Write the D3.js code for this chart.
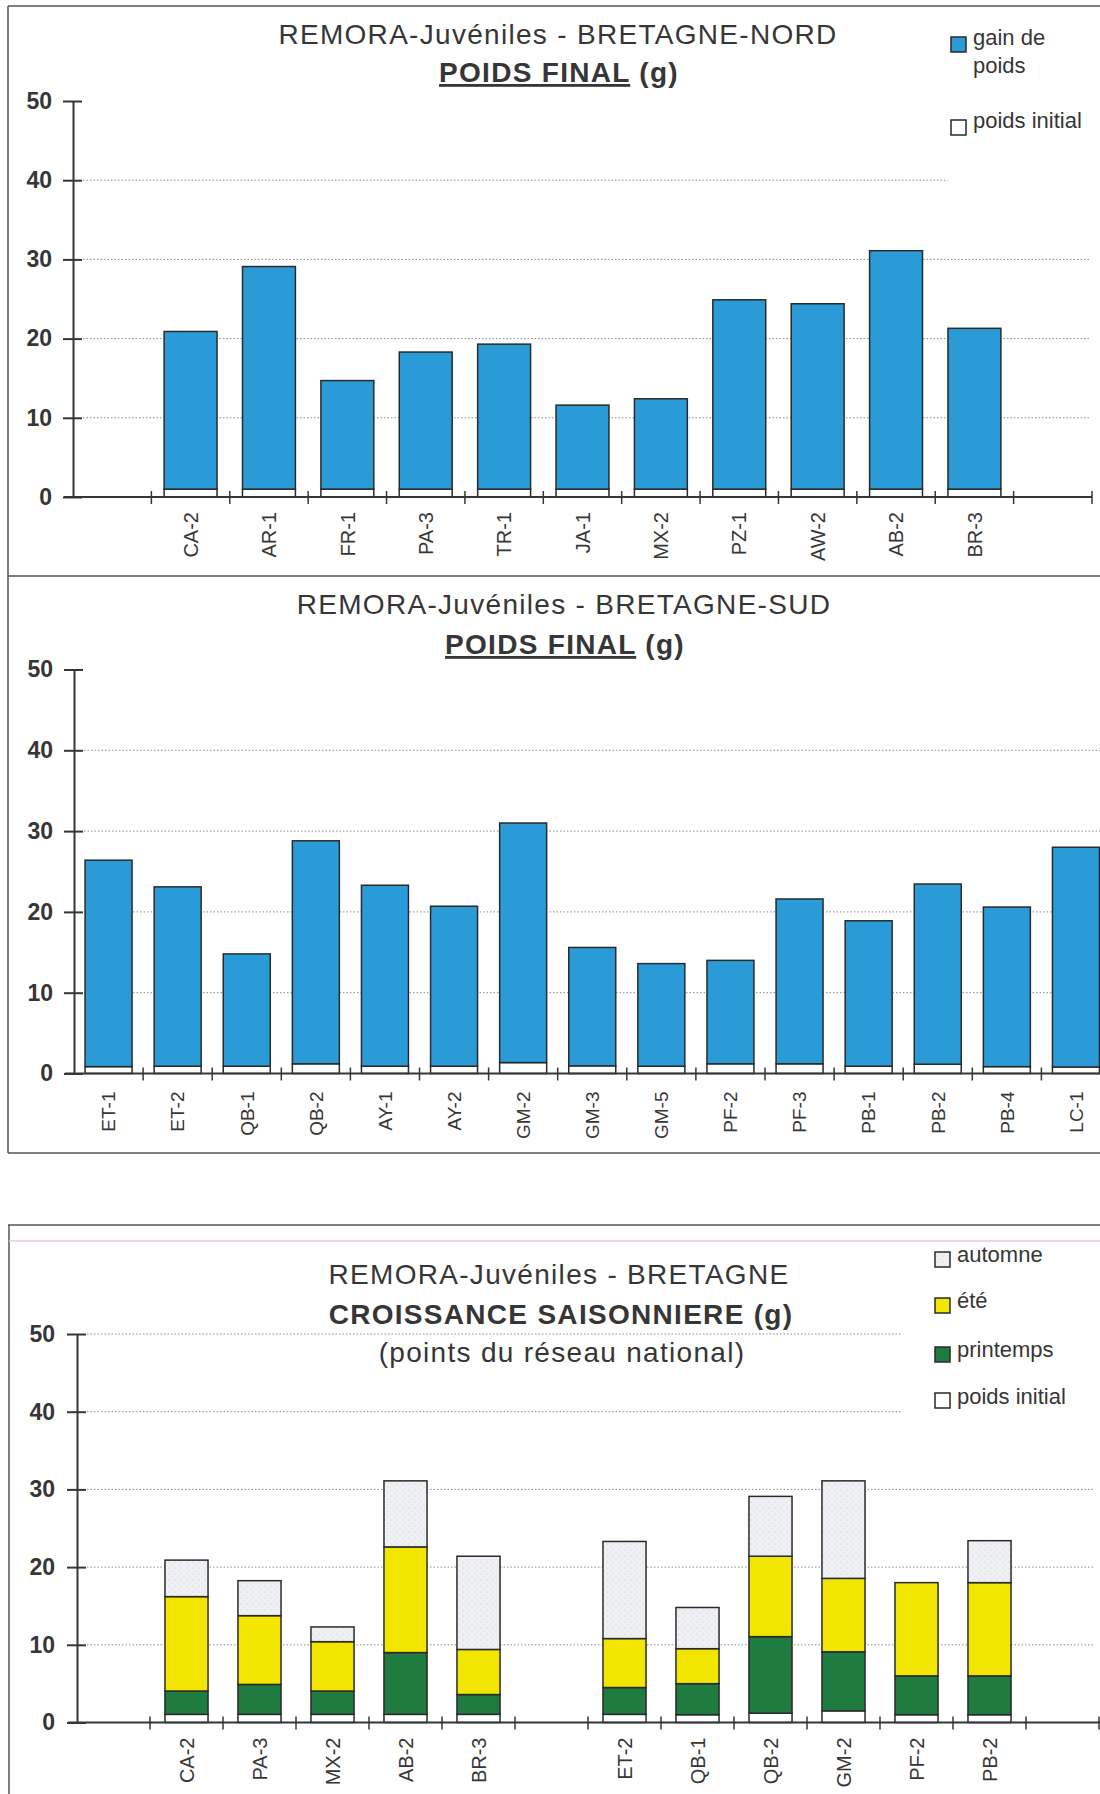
<!DOCTYPE html>
<html>
<head>
<meta charset="utf-8">
<script src="https://cdn.jsdelivr.net/npm/d3@7"></script>
<style>
  body { margin: 0; background: #fff; }
  svg { display: block; }
</style>
</head>
<body>
<div id="chart"></div>
<script>
// Données
const nordSites = ["CA-2", "AR-1", "FR-1", "PA-3", "TR-1", "JA-1", "MX-2", "PZ-1", "AW-2", "AB-2", "BR-3"];
const nordInitial = [1.0, 1.0, 1.0, 1.0, 1.0, 1.0, 1.0, 1.0, 1.0, 1.0, 1.0];
const nordGain = [19.9, 28.1, 13.7, 17.3, 18.3, 10.6, 11.4, 23.9, 23.4, 30.1, 20.3];

const sudSites = ["ET-1", "ET-2", "QB-1", "QB-2", "AY-1", "AY-2", "GM-2", "GM-3", "GM-5", "PF-2", "PF-3", "PB-1", "PB-2", "PB-4", "LC-1"];
const sudInitial = [0.85, 0.9, 0.9, 1.2, 0.9, 0.9, 1.35, 0.95, 0.9, 1.2, 1.2, 0.9, 1.15, 0.85, 0.8];
const sudGain = [25.55, 22.2, 13.9, 27.6, 22.4, 19.8, 29.65, 14.65, 12.7, 12.8, 20.4, 18.0, 22.3, 19.75, 27.2];

const saisonNord = ["CA-2", "PA-3", "MX-2", "AB-2", "BR-3"];
const saisonSud = ["ET-2", "QB-1", "QB-2", "GM-2", "PF-2", "PB-2"];
const saisonInitial = [1.05, 1.05, 1.05, 1.05, 1.05, 1.05, 1.0, 1.2, 1.5, 1.0, 1.0];
const saisonPrintemps = [3.0, 3.85, 3.0, 7.95, 2.55, 3.45, 4.0, 9.85, 7.6, 5.0, 5.0];
const saisonEte = [12.15, 8.85, 6.35, 13.6, 5.8, 6.3, 4.5, 10.35, 9.45, 12.0, 12.0];
const saisonAutomne = [4.7, 4.5, 1.9, 8.5, 12.0, 12.5, 5.3, 7.7, 12.55, 0, 5.4];

const yTicks = [0, 10, 20, 30, 40, 50];

const FONT = '"Liberation Sans", Arial, sans-serif';
const INK = "#363636";
const colors = {
  gain: "#2b9bd8",
  initial: "#ffffff",
  printemps: "#1f7b40",
  ete: "#f2e600",
  automne: "#eef0f3"
};

const W = 1100, H = 1794;
const svg = d3.select("#chart").append("svg")
  .attr("width", W)
  .attr("height", H)
  .style("font-family", FONT);

// motif pointillé pour l'automne
const pat = svg.append("defs").append("pattern")
  .attr("id", "stipple")
  .attr("width", 6).attr("height", 6)
  .attr("patternUnits", "userSpaceOnUse");
pat.append("rect").attr("width", 6).attr("height", 6).attr("fill", colors.automne);
pat.append("circle").attr("cx", 1).attr("cy", 2).attr("r", 0.6).attr("fill", "#c4c8cf");
pat.append("circle").attr("cx", 4).attr("cy", 5).attr("r", 0.5).attr("fill", "#d0d3d9");

// Cadres des panneaux
const frame = svg.append("g").attr("stroke", "#555").attr("stroke-width", 1.5);
frame.append("line").attr("x1", 8).attr("x2", W).attr("y1", 6).attr("y2", 6);
frame.append("line").attr("x1", 8).attr("x2", 8).attr("y1", 6).attr("y2", 1153);
frame.append("line").attr("x1", 8).attr("x2", W).attr("y1", 576).attr("y2", 576);
frame.append("line").attr("x1", 8).attr("x2", W).attr("y1", 1153).attr("y2", 1153);
frame.append("line").attr("x1", 8).attr("x2", W).attr("y1", 1225).attr("y2", 1225);
frame.append("line").attr("x1", 9).attr("x2", 9).attr("y1", 1225).attr("y2", H);
svg.append("line").attr("x1", 9).attr("x2", W).attr("y1", 1241).attr("y2", 1241)
  .attr("stroke", "#efc6e6").attr("stroke-width", 1.5);

// Fonction qui dessine un panneau
function drawPanel(cfg) {
  const g = svg.append("g");

  const x = d3.scaleBand().domain(cfg.slots).range([cfg.x0, cfg.x1]);
  const y = d3.scaleLinear().domain([0, 50]).range([cfg.y0, cfg.y50]);
  const step = x.bandwidth();
  const bw = step * cfg.barRatio;

  // grille pointillée
  g.append("g").selectAll("line")
    .data(cfg.grid)
    .join("line")
    .attr("x1", cfg.x0 + 10)
    .attr("x2", d => d.end)
    .attr("y1", d => y(d.v))
    .attr("y2", d => y(d.v))
    .attr("stroke", "#8a8a8a")
    .attr("stroke-width", 1)
    .attr("stroke-dasharray", "1.5,2");

  // barres empilées
  const stacked = d3.stack().keys(cfg.keys)(cfg.rows);
  g.append("g").selectAll("g")
    .data(stacked)
    .join("g")
    .attr("fill", d => cfg.fills[d.key])
    .selectAll("rect")
    .data(d => d.filter(s => s[1] - s[0] > 0))
    .join("rect")
    .attr("x", d => x(d.data.site) + (step - bw) / 2)
    .attr("width", bw)
    .attr("y", d => y(d[1]))
    .attr("height", d => y(d[0]) - y(d[1]))
    .attr("stroke", "#2a2a2a")
    .attr("stroke-width", 1.5);

  // axe des x
  const xa = g.append("g").attr("stroke", INK).attr("stroke-width", 2);
  xa.append("line")
    .attr("x1", cfg.x0 - 9).attr("x2", cfg.xAxisEnd)
    .attr("y1", y(0)).attr("y2", y(0));
  xa.selectAll("line.tk")
    .data(cfg.tickSlots)
    .join("line")
    .attr("class", "tk")
    .attr("x1", d => d === "__end" ? cfg.x1 : x(d))
    .attr("x2", d => d === "__end" ? cfg.x1 : x(d))
    .attr("y1", y(0) - 6).attr("y2", y(0) + 7)
    .attr("stroke-width", 1.5);

  g.append("g").selectAll("text")
    .data(cfg.rows)
    .join("text")
    .attr("transform", d => `translate(${x(d.site) + step / 2},${y(0) + cfg.labelGap}) rotate(-90)`)
    .attr("text-anchor", "end")
    .attr("dy", "0.36em")
    .attr("fill", INK)
    .style("font-size", cfg.labelSize + "px")
    .text(d => d.site);

  // axe des y
  const ya = g.append("g")
    .attr("transform", `translate(${cfg.x0},0)`)
    .call(d3.axisLeft(y).tickValues(yTicks).tickSize(10).tickSizeOuter(0).tickPadding(cfg.tickPad));
  ya.select(".domain").attr("stroke", INK).attr("stroke-width", 2);
  ya.selectAll(".tick line").attr("x2", 9).attr("x1", -10).attr("stroke", INK).attr("stroke-width", 2);
  ya.selectAll(".tick text")
    .attr("fill", INK)
    .style("font-family", FONT)
    .style("font-size", "23px")
    .style("font-weight", "bold");

  // titres
  cfg.titles.forEach(t => {
    const tx = g.append("text")
      .attr("x", t.x)
      .attr("y", t.y)
      .attr("text-anchor", "middle")
      .attr("fill", INK)
      .style("font-size", "28px")
      .style("letter-spacing", "1.3px")
      .style("font-weight", t.bold ? "bold" : "normal");
    t.parts.forEach(p => {
      tx.append("tspan")
        .style("text-decoration", p.u ? "underline" : "none")
        .text(p.s);
    });
  });

  // légende
  const lg = g.append("g");
  cfg.legend.forEach(l => {
    lg.append("rect")
      .attr("x", l.x).attr("y", l.y)
      .attr("width", 15).attr("height", 15)
      .attr("fill", l.fill)
      .attr("stroke", "#2a2a2a")
      .attr("stroke-width", 1.5);
    l.lines.forEach((s, i) => {
      lg.append("text")
        .attr("x", l.x + 22)
        .attr("y", l.ty + i * 28)
        .attr("fill", INK)
        .style("font-size", "22px")
        .text(s);
    });
  });
}

// Panneau 1 : Bretagne-Nord
const nordRows = nordSites.map((s, i) => ({ site: s, initial: nordInitial[i], gain: nordGain[i] }));
drawPanel({
  slots: ["__a", ...nordSites, "__b"],
  tickSlots: [...nordSites, "__b", "__end"],
  rows: nordRows,
  keys: ["initial", "gain"],
  fills: { initial: colors.initial, gain: colors.gain },
  x0: 73, x1: 1092, xAxisEnd: 1092,
  y0: 497, y50: 101,
  barRatio: 0.675,
  labelGap: 15, labelSize: 20, tickPad: 11,
  grid: [{ v: 10, end: 1090 }, { v: 20, end: 1090 }, { v: 30, end: 1090 }, { v: 40, end: 948 }],
  titles: [
    { x: 558, y: 44, parts: [{ s: "REMORA-Juvéniles - BRETAGNE-NORD" }] },
    { x: 559, y: 82, bold: true, parts: [{ s: "POIDS FINAL", u: true }, { s: " (g)" }] }
  ],
  legend: [
    { x: 951, y: 37, fill: colors.gain, ty: 45, lines: ["gain de", "poids"] },
    { x: 951, y: 120, fill: colors.initial, ty: 128, lines: ["poids initial"] }
  ]
});

// Panneau 2 : Bretagne-Sud
const sudRows = sudSites.map((s, i) => ({ site: s, initial: sudInitial[i], gain: sudGain[i] }));
drawPanel({
  slots: sudSites,
  tickSlots: sudSites.slice(1),
  rows: sudRows,
  keys: ["initial", "gain"],
  fills: { initial: colors.initial, gain: colors.gain },
  x0: 74, x1: 1110.5, xAxisEnd: 1100,
  y0: 1073.5, y50: 669.5,
  barRatio: 0.68,
  labelGap: 18, labelSize: 19, tickPad: 11,
  grid: [{ v: 10, end: 1100 }, { v: 20, end: 1100 }, { v: 30, end: 1100 }, { v: 40, end: 1100 }],
  titles: [
    { x: 564, y: 614, parts: [{ s: "REMORA-Juvéniles - BRETAGNE-SUD" }] },
    { x: 565, y: 654, bold: true, parts: [{ s: "POIDS FINAL", u: true }, { s: " (g)" }] }
  ],
  legend: []
});

// Panneau 3 : croissance saisonnière
const saisonSites = [...saisonNord, ...saisonSud];
const saisonRows = saisonSites.map((s, i) => ({
  site: s,
  initial: saisonInitial[i],
  printemps: saisonPrintemps[i],
  ete: saisonEte[i],
  automne: saisonAutomne[i]
}));
drawPanel({
  slots: ["__a", ...saisonNord, "__gap", ...saisonSud, "__b"],
  tickSlots: [...saisonNord, "__gap", ...saisonSud, "__b", "__end"],
  rows: saisonRows,
  keys: ["initial", "printemps", "ete", "automne"],
  fills: { initial: colors.initial, printemps: colors.printemps, ete: colors.ete, automne: "url(#stipple)" },
  x0: 77, x1: 1099, xAxisEnd: 1100,
  y0: 1722.5, y50: 1334,
  barRatio: 0.59,
  labelGap: 15, labelSize: 20, tickPad: 12,
  grid: [{ v: 10, end: 1095 }, { v: 20, end: 1095 }, { v: 30, end: 1095 }, { v: 40, end: 902 }, { v: 50, end: 902 }],
  titles: [
    { x: 559, y: 1284, parts: [{ s: "REMORA-Juvéniles - BRETAGNE" }] },
    { x: 561, y: 1324, bold: true, parts: [{ s: "CROISSANCE SAISONNIERE (g)" }] },
    { x: 562, y: 1362, parts: [{ s: "(points du réseau national)" }] }
  ],
  legend: [
    { x: 935, y: 1252, fill: "url(#stipple)", ty: 1262, lines: ["automne"] },
    { x: 935, y: 1298, fill: colors.ete, ty: 1308, lines: ["été"] },
    { x: 935, y: 1347, fill: colors.printemps, ty: 1357, lines: ["printemps"] },
    { x: 935, y: 1393, fill: colors.initial, ty: 1404, lines: ["poids initial"] }
  ]
});
</script>
</body>
</html>
